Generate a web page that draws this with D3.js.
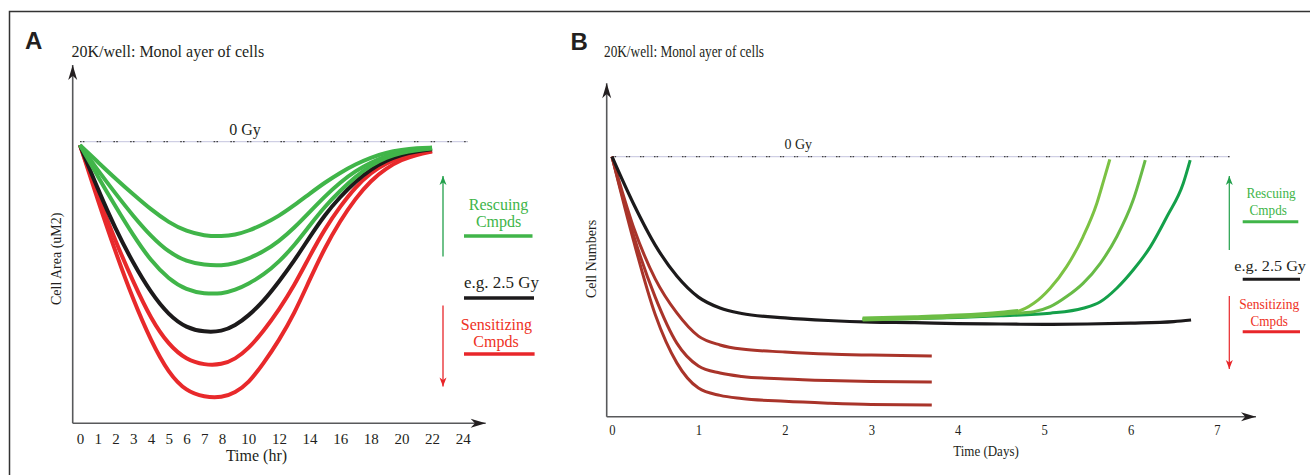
<!DOCTYPE html>
<html><head><meta charset="utf-8">
<script src="https://cdn.jsdelivr.net/npm/d3@7"></script>
<style>
body{margin:0;background:#fff}
svg{display:block}
text{font-family:"Liberation Serif","Times New Roman",serif;fill:#231f20}
</style>
</head><body>
<svg id="c" width="1310" height="475"></svg>
<script>
// ---------------- DATA ----------------
// Panel A: cell area (relative units, 0 Gy = 100) vs time (hr)
const hoursA = [0, 1, 2, 3, 4, 5, 6, 7, 8, 9, 10, 11, 12, 13, 14, 15, 16, 17, 18, 19, 20, 21, 22];
const rescueA1 = [98.8, 92.8, 86.9, 81.3, 75.9, 71.3, 68.1, 66.6, 66.4, 66.9, 68.3, 70.7, 73.6, 77.4, 81.5, 85.5, 89.0, 92.0, 94.4, 96.1, 97.1, 97.7, 97.9];
const rescueA2 = [98.8, 89.9, 81.6, 73.6, 66.4, 60.7, 57.4, 56.2, 56.0, 56.8, 58.4, 61.0, 64.6, 69.4, 75.0, 80.6, 85.6, 89.6, 92.7, 94.9, 96.4, 97.3, 97.8];
const rescueA3 = [98.8, 87.7, 77.0, 66.7, 57.6, 51.2, 47.3, 46.0, 46.0, 47.3, 49.5, 52.7, 57.3, 63.1, 70.2, 77.0, 82.6, 87.6, 91.6, 94.4, 96.1, 97.0, 97.6];
const doseA    = [98.8, 83.2, 69.0, 56.8, 46.3, 38.4, 33.8, 32.4, 32.6, 34.7, 38.1, 43.4, 50.3, 57.7, 66.1, 74.1, 80.4, 85.9, 90.2, 93.3, 95.4, 96.6, 97.3];
const sensA1   = [98.8, 81.1, 64.6, 50.2, 37.0, 27.8, 22.5, 20.7, 20.8, 22.8, 26.4, 32.8, 40.3, 48.9, 59.3, 69.1, 77.0, 83.9, 89.0, 92.4, 94.6, 95.9, 96.7];
const sensA2   = [98.8, 79.3, 60.8, 43.8, 29.2, 17.7, 11.3, 9.3, 9.1, 10.9, 14.2, 21.3, 29.4, 38.9, 50.9, 62.4, 71.9, 79.9, 86.2, 90.6, 93.6, 95.4, 96.5];
const ticksA = [0, 1, 2, 3, 4, 5, 6, 7, 8, 10, 12, 14, 16, 18, 20, 22, 24];
const zeroGyA = [[0, 100], [24.3, 100]];

// Panel B: cell numbers (relative, 0 Gy = 100) vs time (days)
const daysDoseB = [0, 0.25, 0.5, 0.75, 1, 1.25, 1.5, 2, 2.5, 3, 3.5, 4, 4.5, 5, 5.5, 6, 6.5, 6.7];
const doseB     = [100, 81.8, 66.0, 54.1, 46.0, 41.8, 39.7, 38.0, 37.0, 36.4, 36.2, 35.8, 35.65, 35.5, 35.65, 36.0, 36.6, 37.2];
const daysSensB = [0, 0.25, 0.5, 0.75, 1, 1.25, 1.5, 2, 2.5, 3, 3.7];
const sensB1    = [100, 72.8, 53.0, 39.9, 31.0, 27.6, 26.0, 24.9, 24.1, 23.7, 23.3];
const sensB2    = [100, 69.7, 46.0, 28.3, 19.5, 16.8, 15.5, 14.5, 13.9, 13.5, 13.3];
const sensB3    = [100, 67.6, 39.3, 20.7, 11.0, 8.2, 7.0, 5.9, 5.2, 4.7, 4.5];
const daysBaseB = [2.9, 3.5, 4.0, 4.5, 4.7];
const baseB     = [37.6, 38.1, 38.7, 39.8, 40.5];
const daysRescB1 = [2.9, 3.5, 4.0, 4.5, 4.68, 4.88, 5.07, 5.26, 5.45, 5.61, 5.69, 5.76];
const rescB1     = [37.6, 38.1, 38.7, 39.8, 40.4, 43.6, 49.4, 57.7, 69.2, 82.1, 91.0, 99.0];
const daysRescB2 = [2.9, 3.5, 4.0, 4.5, 4.88, 5.07, 5.26, 5.45, 5.65, 5.84, 6.03, 6.17];
const rescB2     = [37.6, 38.1, 38.6, 39.5, 40.4, 42.3, 46.2, 51.3, 59.0, 69.2, 83.3, 98.7];
const daysRescB3 = [2.9, 3.5, 4.0, 4.5, 5.07, 5.45, 5.65, 5.84, 6.03, 6.23, 6.42, 6.61, 6.69];
const rescB3     = [37.4, 37.8, 38.2, 38.8, 39.8, 41.7, 44.2, 49.4, 56.4, 65.4, 76.9, 89.8, 98.7];
const ticksB = [0, 1, 2, 3, 4, 5, 6, 7];
const zeroGyB = [[0, 100], [7.15, 100]];

const legendLabels = {rescue: ["Rescuing", "Cmpds"], dose: "e.g. 2.5 Gy", sens: ["Sensitizing", "Cmpds"]};

// ---------------- DRAW ----------------
const svg = d3.select("#c");
const defs = svg.append("defs");
function marker(id, color, len, half) {
  defs.append("marker").attr("id", id)
    .attr("viewBox", `${-len-1} ${-half-1} ${len+2} ${2*half+2}`)
    .attr("refX", 0).attr("refY", 0)
    .attr("markerWidth", len + 2).attr("markerHeight", 2 * half + 2)
    .attr("markerUnits", "userSpaceOnUse").attr("orient", "auto")
    .append("path").attr("d", `M0,0 L${-len},${-half} L${-len*0.72},0 L${-len},${half} Z`).attr("fill", color);
}
marker("axArr", "#231f20", 15, 4.5);
marker("gArr", "#22a04b", 9, 3.5);
marker("rArr", "#e8262a", 9, 3.5);

// frame
svg.append("path").attr("d", "M9.5,475 L9.5,11.5 L1310,11.5").attr("fill", "none").attr("stroke", "#333").attr("stroke-width", 1.5);

const lineGen = (x, y, c) => d3.line().x(d => x(d[0])).y(d => y(d[1])).curve(c || d3.curveMonotoneX);
const zip = (xs, ys) => xs.map((v, i) => [v, ys[i]]);

// ===== Panel A =====
const xA = d3.scaleLinear().domain([0, 8, 10, 24]).range([80, 222, 248.3, 462.7]);
const yA = d3.scaleLinear().domain([0, 100]).range([423.3, 141.7]);
const gA = svg.append("g");

gA.append("text").text("A").attr("x", 25).attr("y", 49.3)
  .style("font-family", "'Liberation Sans',Arial,sans-serif").style("font-weight", "bold").style("font-size", "24px");
gA.append("text").text("20K/well: Monol ayer of cells").attr("x", 71.4).attr("y", 57.3).style("font-size", "16px");

// axes
gA.append("line").attr("x1", 72.7).attr("y1", 423.3).attr("x2", 72.7).attr("y2", 65)
  .attr("stroke", "#58595b").attr("stroke-width", 1.6).attr("marker-end", "url(#axArr)");
gA.append("line").attr("x1", 72.7).attr("y1", 423.3).attr("x2", 485.7).attr("y2", 423.3)
  .attr("stroke", "#58595b").attr("stroke-width", 1.6).attr("marker-end", "url(#axArr)");
const axA = gA.append("g").attr("transform", "translate(0,423.3)")
  .call(d3.axisBottom(xA).tickValues(ticksA).tickSize(0).tickPadding(9.7).tickFormat(d => d));
axA.select(".domain").remove();
axA.selectAll("text").style("font-size", "15px").style("font-family", "'Liberation Serif',serif").attr("fill", "#231f20");
gA.append("text").text("Time (hr)").attr("x", 256.5).attr("y", 460.5).attr("text-anchor", "middle").style("font-size", "16px");
gA.append("text").text("Cell Area (uM2)").attr("transform", "translate(61,258.8) rotate(-90)").attr("text-anchor", "middle").style("font-size", "14px");

// 0 Gy line
const zl = lineGen(xA, yA, d3.curveLinear);
gA.append("path").attr("d", zl(zeroGyA)).attr("stroke", "#c4c4de").attr("stroke-width", 1).attr("fill", "none");
gA.append("path").attr("d", zl(zeroGyA)).attr("stroke", "#444").attr("stroke-width", 1.3).attr("fill", "none")
  .attr("stroke-dasharray", "1.6,1.2,1.6,12.3");
gA.append("text").text("0 Gy").attr("x", 245).attr("y", 134.5).attr("text-anchor", "middle").style("font-size", "16px");

const lA = lineGen(xA, yA, d3.curveBasis);
const seriesA = [
  [sensA2, "#e8292b"], [sensA1, "#e8292b"], [doseA, "#1c1a1b"],
  [rescueA3, "#40b549"], [rescueA2, "#40b549"], [rescueA1, "#40b549"]
];
seriesA.forEach(([vals, col]) => {
  gA.append("path").attr("d", lA(zip(hoursA, vals))).attr("fill", "none")
    .attr("stroke", col).attr("stroke-width", 4).attr("stroke-linejoin", "round");
});

// legend A
gA.append("line").attr("x1", 443).attr("y1", 256.5).attr("x2", 443).attr("y2", 176)
  .attr("stroke", "#22a04b").attr("stroke-width", 1.3).attr("marker-end", "url(#gArr)");
gA.append("line").attr("x1", 443).attr("y1", 305.5).attr("x2", 443).attr("y2", 386.5)
  .attr("stroke", "#e8262a").attr("stroke-width", 1.3).attr("marker-end", "url(#rArr)");
gA.append("text").text(legendLabels.rescue[0]).attr("x", 498.6).attr("y", 209.5).attr("text-anchor", "middle").style("font-size", "16px").style("fill", "#40b549");
gA.append("text").text(legendLabels.rescue[1]).attr("x", 498.6).attr("y", 227).attr("text-anchor", "middle").style("font-size", "16px").style("fill", "#40b549");
gA.append("line").attr("x1", 464).attr("x2", 532.5).attr("y1", 236).attr("y2", 236).attr("stroke", "#40b549").attr("stroke-width", 3.5);
gA.append("text").text(legendLabels.dose).attr("x", 464).attr("y", 288).attr("textLength", 75).attr("lengthAdjust", "spacingAndGlyphs").style("font-size", "16px");
gA.append("line").attr("x1", 464).attr("x2", 534).attr("y1", 298).attr("y2", 298).attr("stroke", "#1c1a1b").attr("stroke-width", 3.5);
gA.append("text").text(legendLabels.sens[0]).attr("x", 496.4).attr("y", 329.5).attr("text-anchor", "middle").style("font-size", "16px").style("fill", "#ee3124");
gA.append("text").text(legendLabels.sens[1]).attr("x", 496).attr("y", 347).attr("text-anchor", "middle").style("font-size", "16px").style("fill", "#ee3124");
gA.append("line").attr("x1", 464).attr("x2", 534.6).attr("y1", 354).attr("y2", 354).attr("stroke", "#e8262a").attr("stroke-width", 3.5);

// ===== Panel B =====
const xB = d3.scaleLinear().domain([0, 7]).range([612, 1217]);
const yB = d3.scaleLinear().domain([0, 100]).range([416.7, 156.7]);
const gB = svg.append("g");

gB.append("text").text("B").attr("x", 570.5).attr("y", 50)
  .style("font-family", "'Liberation Sans',Arial,sans-serif").style("font-weight", "bold").style("font-size", "24px");
gB.append("text").text("20K/well: Monol ayer of cells").attr("x", 604).attr("y", 57)
  .attr("textLength", 160).attr("lengthAdjust", "spacingAndGlyphs").style("font-size", "16px");

gB.append("line").attr("x1", 606.7).attr("y1", 416.7).attr("x2", 606.7).attr("y2", 83.3)
  .attr("stroke", "#58595b").attr("stroke-width", 1.6).attr("marker-end", "url(#axArr)");
gB.append("line").attr("x1", 606.7).attr("y1", 416.7).attr("x2", 1256).attr("y2", 416.7)
  .attr("stroke", "#58595b").attr("stroke-width", 1.6).attr("marker-end", "url(#axArr)");
const axB = gB.append("g").attr("transform", "translate(0,416.7)")
  .call(d3.axisBottom(xB).tickValues(ticksB).tickSize(0).tickPadding(8).tickFormat(d => d));
axB.select(".domain").remove();
axB.selectAll("text").style("font-size", "15px").style("font-family", "'Liberation Serif',serif").attr("fill", "#231f20")
  .attr("textLength", 6.3).attr("lengthAdjust", "spacingAndGlyphs");
gB.append("text").text("Time (Days)").attr("x", 953.2).attr("y", 455.5)
  .attr("textLength", 65.6).attr("lengthAdjust", "spacingAndGlyphs").style("font-size", "15.5px");
gB.append("text").text("Cell Numbers").attr("transform", "translate(596,259) rotate(-90)").attr("text-anchor", "middle").style("font-size", "14px");

const zlB = lineGen(xB, yB, d3.curveLinear);
gB.append("path").attr("d", zlB(zeroGyB)).attr("stroke", "#c4c4de").attr("stroke-width", 1).attr("fill", "none");
gB.append("path").attr("d", zlB(zeroGyB)).attr("stroke", "#444").attr("stroke-width", 1.3).attr("fill", "none")
  .attr("stroke-dasharray", "1.5,1.1,1.5,9.9");
gB.append("text").text("0 Gy").attr("x", 798.3).attr("y", 149).attr("text-anchor", "middle").style("font-size", "14px");

const lB = lineGen(xB, yB);
const seriesB = [
  [daysSensB, sensB3, "#a9342a", 3], [daysSensB, sensB2, "#a9342a", 3], [daysSensB, sensB1, "#a9342a", 3],
  [daysDoseB, doseB, "#1c1a1b", 3.2],
  [daysRescB3, rescB3, "#14a04a", 3], [daysRescB2, rescB2, "#68bb46", 3], [daysRescB1, rescB1, "#7cc243", 3],
  [daysBaseB, baseB, "#6cbd45", 5]
];
seriesB.forEach(([xs, vals, col, w]) => {
  gB.append("path").attr("d", lB(zip(xs, vals))).attr("fill", "none")
    .attr("stroke", col).attr("stroke-width", w).attr("stroke-linejoin", "round");
});

// legend B
gB.append("line").attr("x1", 1229.3).attr("y1", 250).attr("x2", 1229.3).attr("y2", 176)
  .attr("stroke", "#22a04b").attr("stroke-width", 1.2).attr("marker-end", "url(#gArr)");
gB.append("line").attr("x1", 1229.3).attr("y1", 296).attr("x2", 1229.3).attr("y2", 369)
  .attr("stroke", "#e8262a").attr("stroke-width", 1.2).attr("marker-end", "url(#rArr)");
gB.append("text").text(legendLabels.rescue[0]).attr("x", 1246.4).attr("y", 197.5).attr("textLength", 49.3).attr("lengthAdjust", "spacingAndGlyphs").style("font-size", "15px").style("fill", "#40b549");
gB.append("text").text(legendLabels.rescue[1]).attr("x", 1249.6).attr("y", 215).attr("textLength", 37.3).attr("lengthAdjust", "spacingAndGlyphs").style("font-size", "15px").style("fill", "#40b549");
gB.append("line").attr("x1", 1242.7).attr("x2", 1298.3).attr("y1", 221.7).attr("y2", 221.7).attr("stroke", "#40b549").attr("stroke-width", 3);
gB.append("text").text(legendLabels.dose).attr("x", 1234.3).attr("y", 271).attr("textLength", 71.7).attr("lengthAdjust", "spacingAndGlyphs").style("font-size", "15px");
gB.append("line").attr("x1", 1242.7).attr("x2", 1300).attr("y1", 279.3).attr("y2", 279.3).attr("stroke", "#1c1a1b").attr("stroke-width", 3);
gB.append("text").text(legendLabels.sens[0]).attr("x", 1239.3).attr("y", 309).attr("textLength", 60).attr("lengthAdjust", "spacingAndGlyphs").style("font-size", "15px").style("fill", "#ee3124");
gB.append("text").text(legendLabels.sens[1]).attr("x", 1250.6).attr("y", 326).attr("textLength", 37.3).attr("lengthAdjust", "spacingAndGlyphs").style("font-size", "15px").style("fill", "#ee3124");
gB.append("line").attr("x1", 1242.7).attr("x2", 1300).attr("y1", 331.7).attr("y2", 331.7).attr("stroke", "#e8262a").attr("stroke-width", 3);
</script>
</body></html>
